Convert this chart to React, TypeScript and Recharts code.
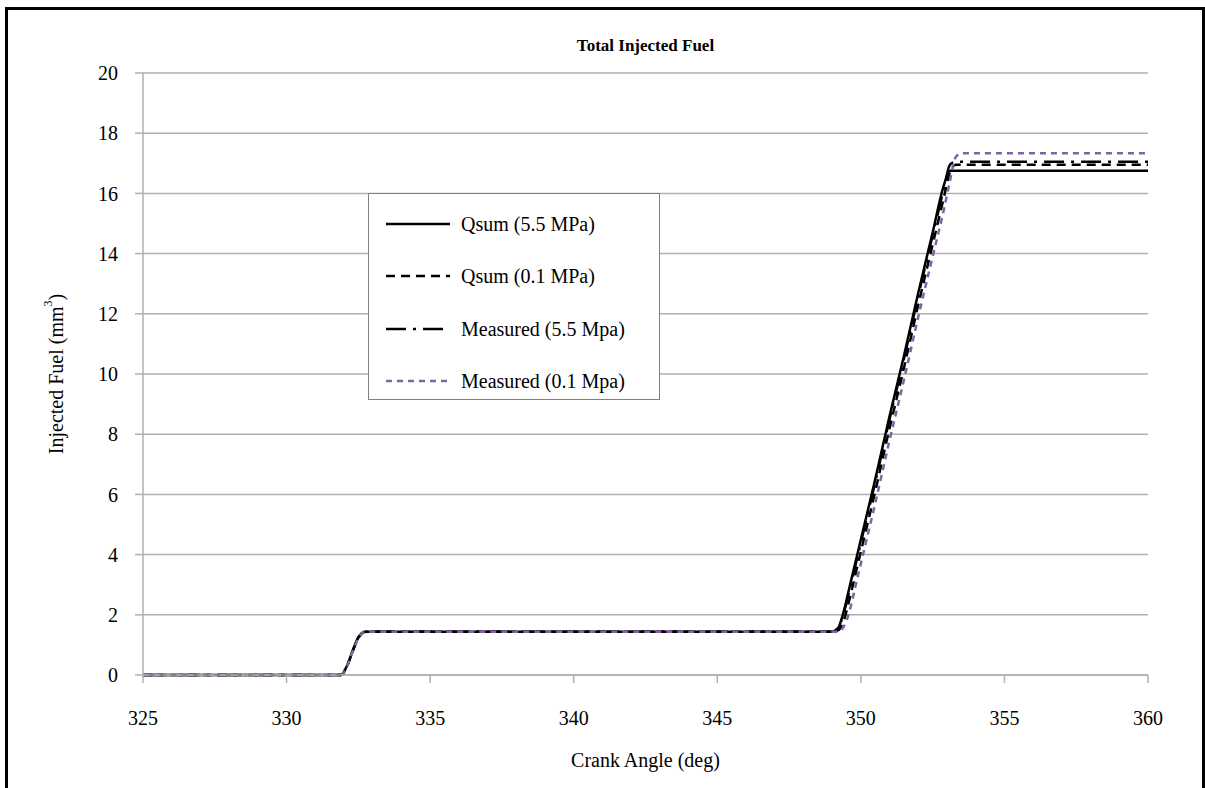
import React from 'react';
import { LineChart, Line, XAxis, YAxis, CartesianGrid, Label } from 'recharts';

const angles = [325, 331.9, 332.1, 332.3, 332.5, 332.7, 332.8, 349.0, 349.2, 349.4, 349.6, 349.8, 350.0, 350.5, 351.0, 351.5, 352.0, 352.5, 352.9, 353.1, 353.3, 353.5, 360];
const qsum55 = [0, 0, 0.3, 0.8, 1.25, 1.43, 1.44, 1.44, 1.55, 2.1, 2.9, 3.7, 4.5, 6.5, 8.6, 10.6, 12.7, 14.7, 16.3, 16.75, 16.75, 16.75, 16.75];
const qsum01 = [0, 0, 0.28, 0.78, 1.22, 1.43, 1.44, 1.44, 1.48, 1.8, 2.5, 3.3, 4.1, 6.1, 8.2, 10.2, 12.3, 14.3, 15.9, 16.7, 16.95, 16.95, 16.95];
const meas55 = [0, 0, 0.3, 0.8, 1.25, 1.43, 1.44, 1.44, 1.55, 2.05, 2.8, 3.6, 4.4, 6.4, 8.5, 10.5, 12.6, 14.6, 16.2, 16.95, 17.05, 17.05, 17.05];
const meas01 = [0, 0, 0.28, 0.78, 1.22, 1.43, 1.44, 1.44, 1.44, 1.6, 2.1, 2.9, 3.7, 5.7, 7.8, 9.8, 11.9, 13.9, 15.5, 16.4, 17.2, 17.33, 17.33];

const xTicks = [325, 330, 335, 340, 345, 350, 355, 360];
const yTicks = [0, 2, 4, 6, 8, 10, 12, 14, 16, 18, 20];

const seriesNames = ['Qsum (5.5 MPa)', 'Qsum (0.1 MPa)', 'Measured (5.5 Mpa)', 'Measured (0.1 Mpa)'];

const data = angles.map((a, i) => ({
  angle: a,
  s1: qsum55[i],
  s2: qsum01[i],
  s3: meas55[i],
  s4: meas01[i],
}));

const FONT = '"Liberation Serif", "Times New Roman", serif';
const GRID = '#b0b0b0';

const styles = [
  { key: 's1', color: '#000000', dash: undefined as string | undefined, width: 2.5 },
  { key: 's2', color: '#000000', dash: '9 6', width: 2.5 },
  { key: 's3', color: '#000000', dash: '20 7 3 7', width: 2.5 },
  { key: 's4', color: '#8064A2', dash: '6 5', width: 2.5 },
];

const XTick = (props: any) => {
  const { x, y, payload } = props;
  return (
    <text x={x} y={y} dy="0.71em" textAnchor="middle" fill="#000" fontSize={20} style={{ fontFamily: FONT }}>
      {payload.value}
    </text>
  );
};

const YTick = (props: any) => {
  const { x, y, payload } = props;
  return (
    <text x={x} y={y} dy="0.355em" textAnchor="end" fill="#000" fontSize={20} style={{ fontFamily: FONT }}>
      {payload.value}
    </text>
  );
};

const LegendBox = () => (
  <div
    style={{
      position: 'absolute',
      left: 368,
      top: 193,
      width: 290,
      height: 205,
      border: '1px solid #808080',
      background: '#fff',
      fontFamily: FONT,
      fontSize: 20,
    }}
  >
    {styles.map((s, i) => (
      <div key={s.key} style={{ position: 'absolute', left: 0, top: 30 + i * 52.3 - 14, height: 28, width: 290 }}>
        <svg width={90} height={28} style={{ position: 'absolute', left: 0, top: 0 }}>
          <line x1={17} x2={81} y1={14} y2={14} stroke={s.color} strokeWidth={s.width} strokeDasharray={s.dash} />
        </svg>
        <span style={{ position: 'absolute', left: 92, top: 0, lineHeight: '28px', whiteSpace: 'nowrap', color: '#000' }}>
          {seriesNames[i]}
        </span>
      </div>
    ))}
  </div>
);

const YLabel = (props: any) => {
  const vb = props.viewBox || { x: 83, y: 73, width: 60, height: 602 };
  const cx = vb.x - 27;
  const cy = vb.y + vb.height / 2;
  return (
    <text
      x={cx}
      y={cy}
      transform={`rotate(-90 ${cx} ${cy})`}
      textAnchor="middle"
      dominantBaseline="central"
      style={{ fontFamily: FONT }}
      fontSize={20}
      fill="#000"
    >
      Injected Fuel (mm
      <tspan fontSize={12} dy={-8}>3</tspan>
      <tspan dy={8}>)</tspan>
    </text>
  );
};

export default function App() {
  return (
    <div style={{ position: 'absolute', left: 0, top: 0, width: 1205, height: 788, background: '#fff', fontFamily: FONT }}>
      <div
        style={{
          position: 'absolute',
          left: 5,
          top: 7,
          width: 1194,
          height: 781,
          borderLeft: '3px solid #000',
          borderTop: '3px solid #000',
          borderRight: '3px solid #000',
          boxSizing: 'content-box',
        }}
      />
      <div
        style={{
          position: 'absolute',
          left: 143,
          width: 1005,
          top: 36,
          textAlign: 'center',
          fontWeight: 'bold',
          fontSize: 17,
          fontFamily: FONT,
          color: '#000',
        }}
      >
        Total Injected Fuel
      </div>
      <div style={{ position: 'absolute', left: 0, top: 0 }}>
        <LineChart
          width={1205}
          height={788}
          data={data}
          margin={{ top: 73, right: 57, bottom: 83, left: 83 }}
          style={{ fontFamily: FONT }}
        >
          <CartesianGrid horizontal vertical={false} stroke={GRID} strokeWidth={1.5} />
          <XAxis
            dataKey="angle"
            type="number"
            domain={[325, 360]}
            ticks={xTicks}
            interval={0}
            height={30}
            stroke={GRID}
            strokeWidth={1.5}
            tickSize={8}
            tickMargin={28}
            tick={<XTick />}
          >
            <Label
              value="Crank Angle (deg)"
              position="bottom"
              offset={48}
              style={{ fill: '#000', fontSize: 20, fontFamily: FONT }}
            />
          </XAxis>
          <YAxis
            type="number"
            domain={[0, 20]}
            ticks={yTicks}
            interval={0}
            width={60}
            stroke={GRID}
            strokeWidth={1.5}
            tickSize={8}
            tickMargin={17}
            tick={<YTick />}
          >
            <Label content={YLabel} />
          </YAxis>
          {styles.map((s) => (
            <Line
              key={s.key}
              dataKey={s.key}
              type="monotone"
              stroke={s.color}
              strokeWidth={s.width}
              strokeDasharray={s.dash}
              dot={false}
              activeDot={false}
              isAnimationActive={false}
            />
          ))}
        </LineChart>
      </div>
      <LegendBox />
    </div>
  );
}
